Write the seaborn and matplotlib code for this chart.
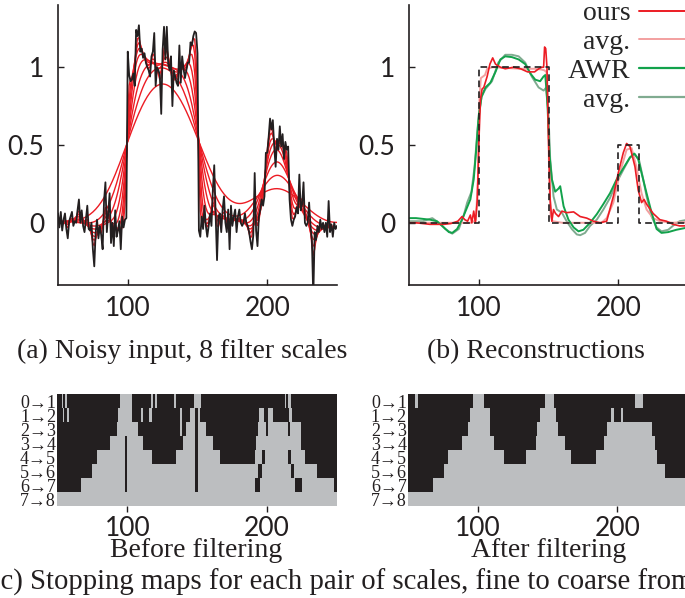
import numpy as np
import seaborn as sns
import matplotlib.pyplot as plt

# ---- data ----
x_in = np.arange(50, 251)
noisy = [
    0.06, -0.03, 0.07, -0.05, 0.02, 0.06, -0.04, -0.10, 0.01, 0.04,
    0.07, -0.02, 0.01, 0.00, 0.08, 0.15, 0.00, 0.08, -0.02, -0.06,
    0.02, 0.11, -0.04, -0.05, 0.00, -0.17, -0.28, -0.06, 0.02, -0.10,
    -0.02, -0.08, -0.17, 0.14, 0.26, -0.06, 0.06, 0.19, -0.13, 0.00,
    -0.15, 0.08, -0.09, -0.05, 0.01, -0.17, 0.04, -0.03, 0.02, 0.03,
    1.10, 0.95, 0.91, 0.92, 0.96, 0.88, 1.24, 1.20, 1.27, 1.10,
    1.12, 1.06, 1.09, 1.03, 1.00, 0.98, 0.94, 1.07, 1.10, 1.22,
    0.88, 1.00, 0.98, 0.95, 0.70, 1.11, 1.26, 1.05, 1.26, 1.02,
    0.98, 1.07, 0.75, 0.98, 0.94, 0.90, 0.88, 1.14, 0.90, 1.07,
    0.99, 0.93, 0.98, 1.03, 1.03, 1.16, 1.14, 1.20, 1.23, 1.22,
    1.09, -0.05, -0.09, 0.04, -0.04, 0.11, -0.02, -0.09, -0.02, 0.06,
    -0.02, 0.21, 0.37, 0.05, -0.24, 0.04, 0.06, -0.06, 0.085, 0.17,
    0.00, -0.06, 0.085, -0.17, 0.11, -0.02, 0.04, 0.085, -0.06, 0.04,
    0.085, 0.00, -0.02, 0.00, 0.06, 0.00, -0.02, -0.06, -0.12, -0.17,
    -0.08, 0.32, -0.05, -0.15, 0.04, 0.085, 0.15, 0.11, 0.17, 0.45,
    0.45, 0.55, 0.67, 0.60, 0.66, 0.49, 0.36, 0.54, 0.47, 0.62,
    0.49, 0.57, 0.41, 0.52, 0.47, 0.49, 0.15, 0.02, -0.02, 0.02,
    0.04, 0.10, 0.06, 0.31, 0.08, 0.12, 0.26, 0.00, -0.02, 0.00,
    0.13, -0.02, -0.11, -0.48, -0.06, -0.11, -0.02, -0.06, 0.02, -0.04,
    0.00, -0.06, 0.00, -0.09, 0.14, -0.06, -0.01, -0.09, 0.00, -0.04,
    -0.02]
# widths of the 8 gaussian filter scales (in samples)
scale_sigmas = [1.2, 1.8, 2.6, 3.8, 5.5, 8.0, 11.5, 17.0]

truth_x = [50, 100, 100, 150, 150, 200, 200, 215, 215, 250]
truth_y = [0, 0, 1, 1, 0, 0, 0.5, 0.5, 0, 0]

ours_x = [50, 55, 60, 65, 70, 75, 80, 85, 88, 90, 92, 94, 95, 96.4, 97.6, 99, 100,
          101.2, 102.4, 103.6, 106, 108, 110, 112, 115.5, 119, 125, 130, 135, 140,
          143, 145.2, 146.5, 147.2, 148, 148.9, 150, 151.2, 152.4, 153.6, 155,
          157.2, 159.6, 163, 168, 172.7, 177.4, 182.2, 187, 191.7, 196.5, 200,
          203.6, 206, 208.4, 212, 214.3, 216.7, 218.5, 220.3, 225, 229.8, 234.6,
          239.3, 244, 250]
ours_y = [0.0, 0.0, -0.005, -0.01, -0.01, -0.01, -0.005, 0.01, 0.04, 0.02, 0.01,
          0.05, 0.0, 0.075, 0.0, 0.15, 0.5, 0.79, 0.86, 0.87, 0.94, 1.02, 1.06,
          1.02, 1.0, 0.99, 1.0, 0.99, 0.97, 0.97, 0.99, 1.0, 1.0, 1.13, 1.12, 1.0,
          0.54, 0.15, 0.01, 0.085, 0.06, 0.04, 0.075, 0.065, 0.07, 0.04, 0.03,
          0.01, 0.0, 0.01, 0.17, 0.32, 0.45, 0.51, 0.49, 0.36, 0.21, 0.13, 0.15,
          0.12, 0.06, 0.02, 0.01, -0.01, -0.02, -0.02]

ours_avg_x = [50, 60, 70, 80, 90, 95, 98, 99.5, 100.5, 101.5, 103, 104.5, 106, 110,
              120, 130, 140, 145, 147, 148.5, 149.5, 150.5, 151.5, 153, 160, 170,
              180, 188, 191.7, 196.5, 201.2, 206, 209.6, 213, 216.7, 220.3, 225,
              229.8, 239, 250]
ours_avg_y = [0.0, 0.0, 0.0, 0.0, 0.0, 0.0, 0.02, 0.3, 0.8, 0.93, 0.94, 0.95, 0.99,
              1.0, 0.995, 0.99, 0.99, 0.985, 0.98, 0.97, 0.8, 0.3, 0.05, 0.01, 0.0,
              0.0, 0.0, 0.0, 0.03, 0.13, 0.32, 0.47, 0.48, 0.36, 0.19, 0.085, 0.03,
              0.01, 0.0, 0.005]

awr_x = [50, 55, 60, 65, 70, 73.8, 78.6, 81, 84.5, 88, 91.7, 94, 96.4, 98, 100, 102,
         104.8, 108.3, 112, 115.5, 119, 123.8, 128.6, 133.3, 137, 140.5, 144, 146.4,
         147.7, 149.3, 150.8, 152.4, 154.8, 157.2, 158.4, 160.8, 164.3, 168, 171.5,
         175, 179.8, 184.6, 189.3, 194.1, 198.9, 203.6, 208.4, 211.5, 214.3, 216.7,
         220.3, 223.9, 227.5, 231, 235.8, 241.7, 250]
awr_y = [0.03, 0.03, 0.025, 0.02, 0.01, -0.02, -0.06, -0.065, -0.04, 0.02, 0.10,
         0.15, 0.28, 0.45, 0.69, 0.81, 0.87, 0.90, 0.97, 1.05, 1.07, 1.065, 1.05,
         1.02, 0.96, 0.92, 0.91, 0.94, 0.95, 0.75, 0.43, 0.28, 0.20, 0.22, 0.235,
         0.107, 0.02, -0.03, -0.055, -0.045, 0.0, 0.055, 0.12, 0.19, 0.28, 0.35,
         0.42, 0.445, 0.41, 0.32, 0.19, 0.065, -0.04, -0.065, -0.06, -0.045, -0.03]

awr_avg_x = [50, 55, 60, 66.7, 71.4, 76, 81, 85.7, 89.3, 91.7, 94.8, 97, 99.5, 102,
             104.8, 109.5, 114, 119, 123.8, 128.6, 133.3, 138, 142.9, 146.5, 148.4,
             150, 151.2, 153.6, 156, 159.6, 163, 166.7, 170.3, 172.7, 176.2, 179.8,
             184.6, 189.3, 194.1, 198.9, 203.6, 208.4, 212, 215, 217.9, 220.3,
             223.9, 227.5, 231, 235.8, 240.5, 244, 250]
awr_avg_y = [0.01, 0.01, 0.01, 0.03, 0.0, -0.04, -0.07, -0.04, 0.05, 0.13, 0.2,
             0.36, 0.64, 0.81, 0.86, 0.91, 1.03, 1.08, 1.08, 1.07, 1.03, 0.94, 0.87,
             0.85, 0.87, 0.69, 0.41, 0.17, 0.085, 0.065, 0.01, -0.04, -0.075, -0.08,
             -0.065, -0.02, 0.02, 0.085, 0.16, 0.26, 0.34, 0.42, 0.44, 0.40, 0.28,
             0.17, 0.04, -0.03, -0.055, -0.045, -0.01, 0.01, 0.02]

pair_labels = ['0→1', '1→2', '2→3', '3→4', '4→5', '5→6', '6→7', '7→8']
# black (stopped) runs per scale pair, (start, end) in x units
before_black = [
    [(50, 53), (54, 55.5), (56.5, 95), (103, 117), (118, 120), (121, 133.5),
     (134.5, 148), (153, 212.5), (213.7, 215), (217.3, 250)],
    [(50, 54), (55, 57), (58, 93), (103.5, 109.5), (111.3, 115.5), (117.3, 137.5),
     (139.4, 144.6), (148.2, 150.3), (152, 194), (197.7, 200.6), (204.2, 216),
     (217.7, 250)],
    [(50, 92.7), (107.5, 137.5), (139.4, 142.3), (148.2, 150.6), (156.5, 193.5),
     (199.4, 200.6), (214.9, 216.1), (224.4, 250)],
    [(50, 87.5), (98.2, 100), (111.3, 139.9), (148.2, 150.6), (161.5, 192.3),
     (224.4, 250)],
    [(50, 78), (98.2, 100), (117.7, 134.5), (148.2, 150.6), (166, 191),
     (196.3, 198.2), (214.9, 216.8), (227.3, 250)],
    [(50, 74.4), (98.2, 100), (148.2, 150.6), (193.7, 196), (217, 219),
     (235.8, 250)],
    [(50, 66.5), (98.2, 100), (148.2, 150.8), (191, 194.6), (219.6, 224.6),
     (247.5, 250)],
    [],
]
after_black = [
    [(50, 54.8), (56.8, 96.2), (104, 118.4), (119, 148.1), (154.2, 212.6),
     (218.5, 250)],
    [(50, 94), (108.3, 144.8), (156.2, 195.5), (197.3, 202.4), (204.2, 250)],
    [(50, 92.9), (108.3, 142), (157.6, 192.9), (225, 250)],
    [(50, 88.3), (111.3, 141.3), (162.2, 190.3), (226.7, 250)],
    [(50, 78.8), (118.6, 134.2), (166.7, 184.5), (228.3, 250)],
    [(50, 75.6), (234.5, 250)],
    [(50, 67.5)],
    [],
]


def gauss_smooth(y, sigma):
    r = int(4 * sigma) + 1
    k = np.exp(-0.5 * (np.arange(-r, r + 1) / sigma) ** 2)
    k /= k.sum()
    return np.convolve(np.pad(np.asarray(y), r, mode='reflect'), k, mode='valid')


#%% style
sns.set_theme(style='white')
plt.rcParams['font.family'] = ['Lato', 'DejaVu Sans']
serif = ['Liberation Serif', 'DejaVu Serif']
ink = '#231f20'
red = '#ec1c24'
pink = '#f3a0a0'
green = '#12a24b'
grey_green = '#80ab90'
map_grey = '#bcbec0'

W, H = 685, 598
fig = plt.figure(figsize=(W / 100, H / 100), dpi=100)


def box(l, t, r, b):
    return [l / W, 1 - b / H, (r - l) / W, (b - t) / H]


ax1 = fig.add_axes(box(58, 5, 337, 285))
ax2 = fig.add_axes(box(409, 5, 688, 285))
ax3 = fig.add_axes(box(57.5, 394, 337, 506))
ax4 = fig.add_axes(box(408.3, 394, 687, 506))


def style_curve_axes(ax):
    ax.set_xlim(50, 250)
    ax.set_ylim(-0.4, 1.4)
    ax.set_xticks([100, 200])
    ax.set_yticks([0, 0.5, 1])
    ax.set_yticklabels(['0', '0.5', '1'])
    ax.set_xlabel('')
    ax.set_ylabel('')
    sns.despine(ax=ax)
    for sp in ['left', 'bottom']:
        ax.spines[sp].set_color(ink)
        ax.spines[sp].set_linewidth(1.2)
    ax.tick_params(axis='both', direction='in', length=4, width=1, colors=ink,
                   labelsize=19, bottom=True, left=True)
    ax.tick_params(axis='y', pad=10)
    ax.tick_params(axis='x', pad=8)


#%% (a) noisy input and the filter scales
for s in scale_sigmas:
    sns.lineplot(x=x_in, y=gauss_smooth(noisy, s), ax=ax1, color=red, lw=1.0,
                 estimator=None, sort=False)
sns.lineplot(x=x_in, y=noisy, ax=ax1, color=ink, lw=1.3, estimator=None, sort=False)
style_curve_axes(ax1)

#%% (b) reconstructions
sns.lineplot(x=awr_avg_x, y=awr_avg_y, ax=ax2, color=grey_green, lw=1.4,
             estimator=None, sort=False)
sns.lineplot(x=ours_avg_x, y=ours_avg_y, ax=ax2, color=pink, lw=1.4,
             estimator=None, sort=False)
sns.lineplot(x=awr_x, y=awr_y, ax=ax2, color=green, lw=1.4, estimator=None, sort=False)
sns.lineplot(x=ours_x, y=ours_y, ax=ax2, color=red, lw=1.2, estimator=None, sort=False)
sns.lineplot(x=truth_x, y=truth_y, ax=ax2, color=ink, lw=1.2, dashes=False,
             estimator=None, sort=False, linestyle=(0, (4, 2.5)))
style_curve_axes(ax2)

handles = [plt.Line2D([], [], color=red, lw=1.4),
           plt.Line2D([], [], color=pink, lw=1.4),
           plt.Line2D([], [], color=green, lw=1.6),
           plt.Line2D([], [], color=grey_green, lw=1.6)]
ax2.legend(handles, ['ours', 'avg.', 'AWR', 'avg.'], loc='upper left',
           bbox_to_anchor=(568 / W, 1 - 1 / H), bbox_transform=fig.transFigure,
           frameon=False, markerfirst=False, handlelength=2.6, handletextpad=0.3,
           labelspacing=0.12, borderpad=0, borderaxespad=0,
           prop={'family': serif, 'size': 20})


#%% (c) stopping maps
def draw_map(ax, rows):
    ax.set_facecolor(map_grey)
    for k, runs in enumerate(rows):
        if runs:
            ax.broken_barh([(a, b - a) for a, b in runs], (k, 1), facecolors=ink,
                           linewidth=0)
    ax.set_xlim(50, 250)
    ax.set_ylim(8, 0)
    ax.set_xticks([100, 200])
    ax.set_yticks(np.arange(8) + 0.5)
    ax.set_yticklabels(pair_labels, fontfamily=serif, fontsize=13, color=ink)
    for sp in ax.spines.values():
        sp.set_visible(False)
    ax.grid(False)
    ax.tick_params(axis='y', length=0, pad=1, left=True)
    ax.tick_params(axis='x', direction='out', length=4, width=1, colors=ink,
                   labelsize=19, pad=3, bottom=True)


draw_map(ax3, before_black)
draw_map(ax4, after_black)

#%% captions
fig.text(182 / W, 1 - 358 / H, '(a) Noisy input, 8 filter scales', ha='center',
         va='baseline', fontsize=20, family=serif, color=ink)
fig.text(536 / W, 1 - 358 / H, '(b) Reconstructions', ha='center',
         va='baseline', fontsize=20, family=serif, color=ink)
fig.text(196 / W, 1 - 557 / H, 'Before filtering', ha='center', va='baseline',
         fontsize=20, family=serif, color=ink)
fig.text(549 / W, 1 - 557 / H, 'After filtering', ha='center', va='baseline',
         fontsize=20, family=serif, color=ink)
fig.text(-9 / W, 1 - 590 / H,
         '(c) Stopping maps for each pair of scales, fine to coarse from top to bottom',
         ha='left', va='baseline', fontsize=20.7, family=serif, color=ink)

fig.savefig('out.png', dpi=100)
